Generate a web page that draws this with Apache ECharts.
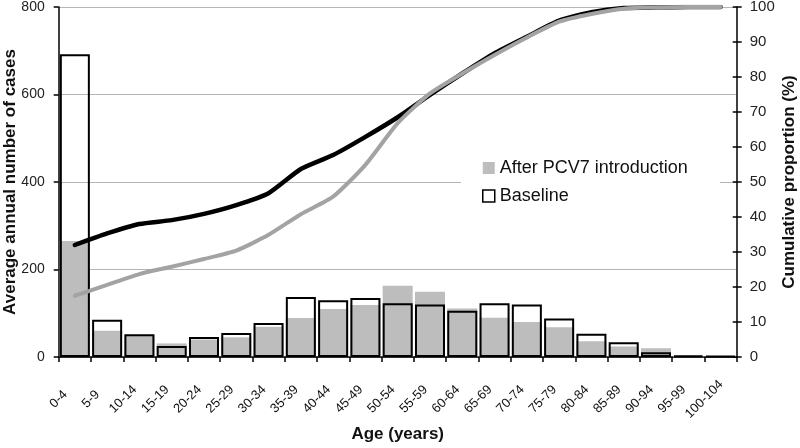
<!DOCTYPE html>
<html>
<head>
<meta charset="utf-8">
<script src="https://cdn.jsdelivr.net/npm/echarts@6/dist/echarts.min.js"></script>
<style>
html,body{margin:0;padding:0;background:#fff;}
#chart{width:800px;height:448px;}
</style>
</head>
<body>
<div id="chart"></div>
<script>
var categories = ['0-4','5-9','10-14','15-19','20-24','25-29','30-34','35-39','40-44','45-49','50-54','55-59','60-64','65-69','70-74','75-79','80-84','85-89','90-94','95-99','100-104'];
var baseline = [692,85,52,25,46,55,78,137,130,135,123,120,106,123,120,88,53,34,11,3,2];
var afterPCV7 = [265,60,50,31,40,45,69,89,110,119,163,149,111,90,80,68,36,24,20,2,1];
var cumBaseline = [32.0,35.3,38.0,39.1,40.9,43.4,46.8,53.7,57.7,62.9,68.5,74.9,81.0,86.8,91.5,96.1,98.5,99.7,99.9,100,100];
var cumAfter = [17.5,20.6,23.7,25.8,28.0,30.4,34.9,40.8,45.8,54.9,66.8,75.3,81.0,86.3,91.3,95.8,98.0,99.5,99.9,100,100];
var leftTicks = [0,200,400,600,800];
var rightTicks = [0,10,20,30,40,50,60,70,80,90,100];

var FONT = '"Liberation Sans", Arial, sans-serif';
var chart = echarts.init(document.getElementById('chart'), null, {renderer:'canvas'});
var option = {
  animation:false,
  backgroundColor:'#fff',
  grid:{left:58.7, right:63.3, top:7, bottom:91, containLabel:false, outerBoundsMode:'none'},
  legend:{
    orient:'vertical', left:461, top:153, padding:[6,32,6,21],
    backgroundColor:'#fff', itemWidth:12, itemHeight:12, itemGap:10,
    selectedMode:false, icon:'rect',
    textStyle:{fontSize:18, fontFamily:FONT, color:'#111'},
    data:[
      {name:'After PCV7 introduction', itemStyle:{color:'#bdbdbd', borderWidth:0}},
      {name:'Baseline', itemStyle:{color:'#fff', borderColor:'#000', borderWidth:1.5}}
    ]
  },
  xAxis:{
    type:'category', data:categories,
    name:'Age (years)', nameLocation:'middle', nameGap:69, nameMoveOverlap:false,
    nameTextStyle:{fontSize:17, fontWeight:'bold', fontFamily:FONT, color:'#111'},
    axisLine:{lineStyle:{color:'#000', width:1.5}},
    axisTick:{show:true, length:5, lineStyle:{color:'#000', width:1.5}},
    axisLabel:{rotate:45, margin:26, align:'center', verticalAlign:'middle',
      padding:[0,46,46,0], fontSize:13, fontFamily:FONT, color:'#111', interval:0}
  },
  yAxis:[
    {
      type:'value', min:0, max:800, interval:200, position:'left',
      name:'Average annual number of cases', nameLocation:'middle', nameGap:40, nameRotate:90,
      nameMoveOverlap:false,
      nameTextStyle:{fontSize:17, fontWeight:'bold', fontFamily:FONT, color:'#111'},
      axisLine:{show:true, lineStyle:{color:'#000', width:1.5}},
      axisTick:{show:true, length:5, lineStyle:{color:'#000', width:1.5}},
      axisLabel:{margin:14, fontSize:14, fontFamily:FONT, color:'#222',
        formatter:function(v){return leftTicks.indexOf(v)>=0 ? String(v) : '';}},
      splitLine:{show:true, lineStyle:{color:'#b5b5b5', width:1.2}}
    },
    {
      type:'value', min:0, max:100, interval:10, position:'right',
      name:'Cumulative proportion (%)', nameLocation:'middle', nameGap:44, nameRotate:90,
      nameMoveOverlap:false,
      nameTextStyle:{fontSize:17, fontWeight:'bold', fontFamily:FONT, color:'#111'},
      axisLine:{show:true, lineStyle:{color:'#000', width:1.5}},
      axisTick:{show:true, length:5, lineStyle:{color:'#000', width:1.5}},
      axisLabel:{margin:13, fontSize:15, fontFamily:FONT, color:'#222',
        formatter:function(v){return rightTicks.indexOf(v)>=0 ? String(v) : '';}},
      splitLine:{show:false}
    },
    {
      type:'value', min:0, max:100, interval:10, position:'right',
      axisLine:{show:false},
      axisTick:{show:true, inside:true, length:4, lineStyle:{color:'#000', width:1.5}},
      axisLabel:{show:false}, splitLine:{show:false}
    }
  ],
  series:[
    {
      name:'After PCV7 introduction', type:'bar', data:afterPCV7,
      barCategoryGap:'7%', barGap:'-100%',
      itemStyle:{color:'#bdbdbd'}, z:2
    },
    {
      name:'Baseline', type:'bar', data:baseline,
      barCategoryGap:'7%', barGap:'-100%',
      itemStyle:{color:'rgba(255,255,255,0)', borderColor:'#000', borderWidth:2}, z:3
    },
    {
      name:'Cumulative baseline', type:'line', yAxisIndex:1, data:cumBaseline,
      symbol:'none', smooth:0.2, z:4,
      lineStyle:{color:'#000', width:4.5, cap:'round', join:'round'}
    },
    {
      name:'Cumulative after PCV7', type:'line', yAxisIndex:1, data:cumAfter,
      symbol:'none', smooth:0.2, z:5,
      lineStyle:{color:'#a3a3a3', width:4, cap:'round', join:'round'}
    }
  ]
};
chart.setOption(option);
</script>
</body>
</html>
